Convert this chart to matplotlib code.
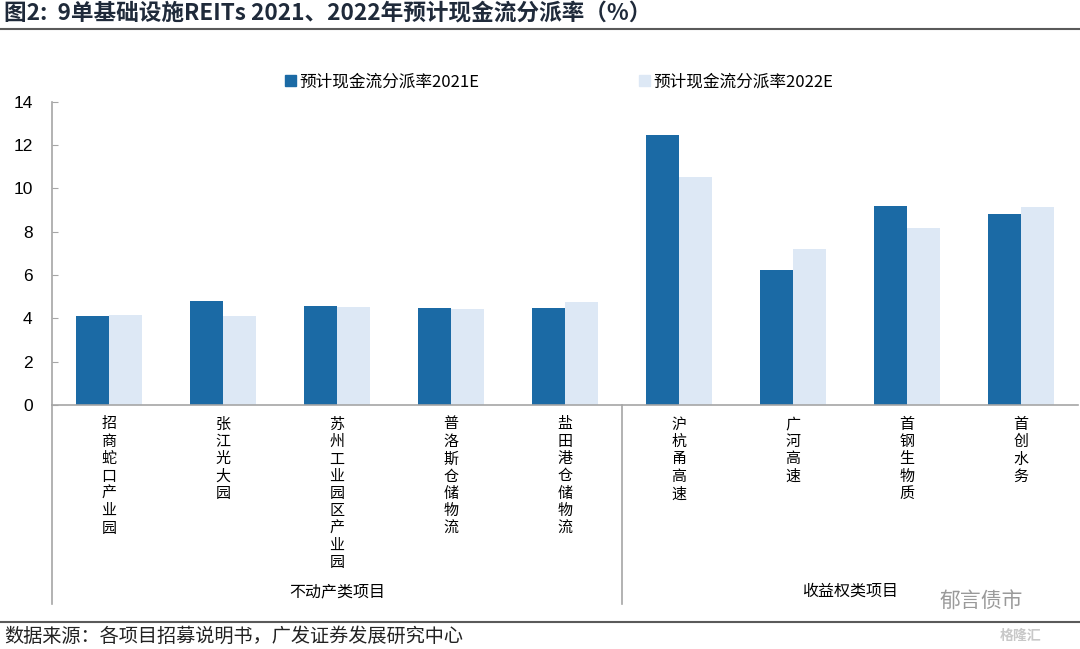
import numpy as np
import matplotlib
matplotlib.use('Agg')
import matplotlib.pyplot as plt
from matplotlib.patches import Patch
from matplotlib.lines import Line2D
import matplotlib.transforms as mtransforms

plt.rcParams['font.family'] = ['Noto Sans CJK SC', 'DejaVu Sans']

# data
projects = ['招商蛇口产业园', '张江光大园', '苏州工业园区产业园', '普洛斯仓储物流',
            '盐田港仓储物流', '沪杭甬高速', '广河高速', '首钢生物质', '首创水务']
rate_2021 = [4.13, 4.80, 4.55, 4.48, 4.48, 12.46, 6.22, 9.18, 8.81]
rate_2022 = [4.15, 4.11, 4.52, 4.45, 4.75, 10.51, 7.20, 8.17, 9.14]
series_names = ['预计现金流分派率2021E', '预计现金流分派率2022E']
groups = ['不动产类项目', '收益权类项目']
n_property = 5   # first 5 projects are property type

title = '图2:  9单基础设施REITs 2021、2022年预计现金流分派率（%）'
source = '数据来源：各项目招募说明书，广发证券发展研究中心'

dark = '#1B6AA5'
light = '#DDE8F5'
axis_gray = '#A6A6A6'

fig = plt.figure(figsize=(10.8, 6.49), dpi=100)
ax = fig.add_axes([52 / 1080, 0.376, 1026 / 1080, 0.4673])

x = np.arange(len(projects))
w = 0.29
ax.bar(x - w / 2, rate_2021, w, color=dark, label=series_names[0])
ax.bar(x + w / 2, rate_2022, w, color=light, label=series_names[1])

ax.set_xlim(-0.5, len(projects) - 0.5)
ax.set_ylim(0, 14)
ax.set_yticks(np.arange(0, 15, 2))
ax.set_yticklabels([str(v) for v in range(0, 15, 2)], family='Liberation Sans', fontsize=12.5)
ax.tick_params(axis='y', direction='in', length=4, color=axis_gray, pad=14)
ax.set_xticks(x)
ax.set_xticklabels(['\n'.join(p) for p in projects], fontsize=10.8, linespacing=1.3,
                   va='top')
ax.tick_params(axis='x', length=0, pad=9)

for s in ['top', 'right']:
    ax.spines[s].set_visible(False)
ax.spines['left'].set_color(axis_gray)
ax.spines['bottom'].set_color(axis_gray)
ax.spines['left'].set_linewidth(1.2)
ax.spines['bottom'].set_linewidth(1.2)

# vertical lines down through the label area
trans = mtransforms.blended_transform_factory(ax.transData, ax.transAxes)
low = -0.656
for xv in [-0.5, n_property - 0.5]:
    ax.add_line(Line2D([xv, xv], [0, low], transform=trans, color=axis_gray,
                       lw=1.2, clip_on=False))

# group labels
ax.text((-0.5 + n_property - 0.5) / 2, -0.615, groups[0], transform=trans,
        ha='center', va='center', fontsize=11.5)
ax.text((n_property - 0.5 + len(projects) - 0.5) / 2, -0.615, groups[1], transform=trans,
        ha='center', va='center', fontsize=11.5)

# legend
handles = [Patch(color=dark), Patch(color=light)]
fig.legend(handles, series_names, loc='center left', bbox_to_anchor=(270 / 1080, 1 - 82 / 649),
           ncol=2, frameon=False, fontsize=12, handlelength=0.65, handleheight=0.65,
           handletextpad=0.2, columnspacing=9.6)

# title and source with rules
fig.text(4 / 1080, 1 - 13 / 649, title, fontsize=16.3, fontweight='bold',
         color='#1F2A3A', va='center', ha='left')
fig.add_artist(Line2D([0, 1], [1 - 29 / 649, 1 - 29 / 649], color='#5A5A5A', lw=1.5))
fig.add_artist(Line2D([0, 1], [1 - 622 / 649, 1 - 622 / 649], color='#5A5A5A', lw=1.5))
fig.text(4 / 1080, 1 - 636 / 649, source, fontsize=13.8, color='#222222',
         va='center', ha='left')

# watermark
fig.text(940 / 1080, 1 - 601 / 649, '郁言债市', fontsize=15, color='#9A9A9A',
         va='center', ha='left')
fig.text(1000 / 1080, 1 - 636 / 649, '格隆汇', fontsize=10, color='#C8C8C8',
         va='center', ha='left', fontweight='bold')

fig.savefig('out.png', dpi=100)
